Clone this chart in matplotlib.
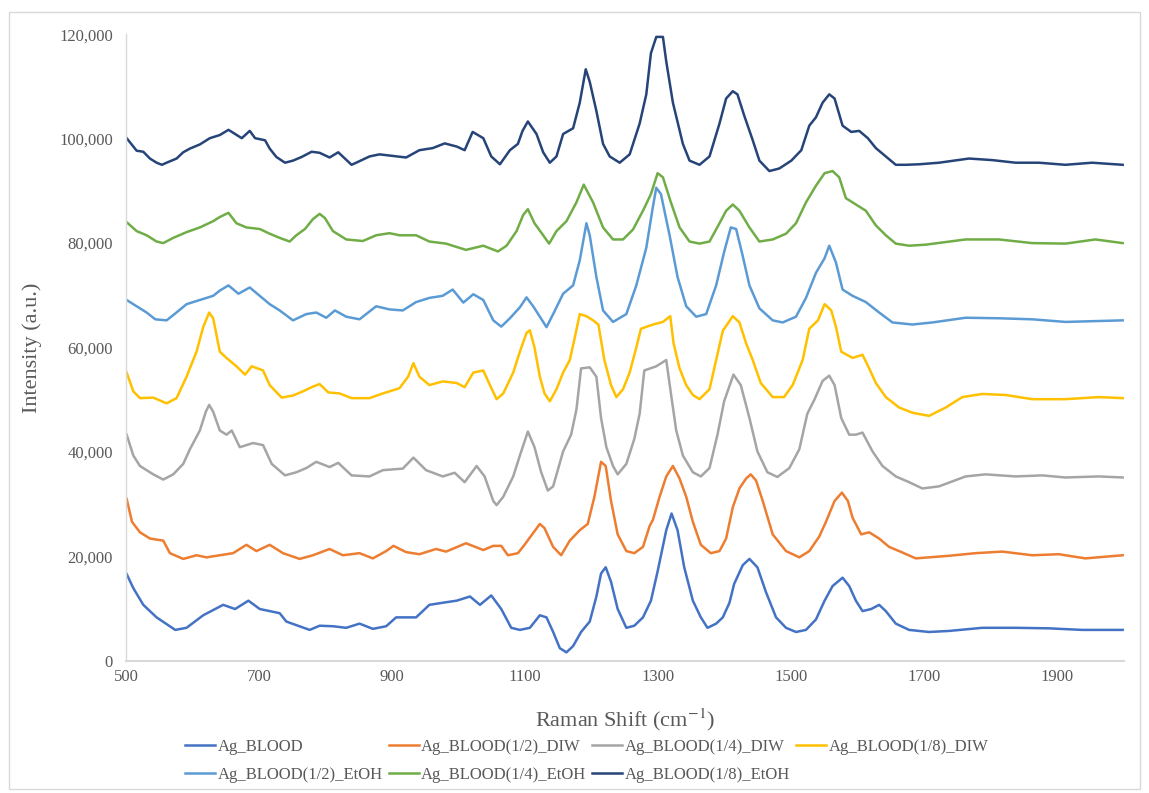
import matplotlib
matplotlib.use("Agg")
import matplotlib.pyplot as plt
from matplotlib.patches import Rectangle
from matplotlib.ticker import FuncFormatter

plt.rcParams["font.family"] = ["Liberation Serif", "DejaVu Serif"]
plt.rcParams["mathtext.fontset"] = "stix"

# Raman shift (cm^-1) and intensity (thousands of counts) for each sample
x_blood = [501, 511, 526, 546, 574, 591, 616, 646, 664, 684, 701, 731, 741, 776, 791, 811, 831, 851, 871, 891,
           906, 936, 956, 976, 997, 1017, 1032, 1049, 1064, 1079, 1092, 1107, 1122, 1132, 1142, 1152, 1162, 1172,
           1184, 1197, 1207, 1214, 1221, 1229, 1239, 1252, 1264, 1277, 1289, 1299, 1312, 1320, 1329, 1339, 1352,
           1364, 1374, 1387, 1397, 1407, 1414, 1427, 1437, 1449, 1462, 1477, 1492, 1507, 1522, 1537, 1550, 1562,
           1577, 1587, 1597, 1607, 1620, 1632, 1642, 1657, 1677, 1707, 1737, 1787, 1837, 1887, 1937, 1998]
y_blood = [16.6, 13.9, 10.7, 8.3, 5.9, 6.3, 8.7, 10.7, 9.9, 11.5, 9.9, 9.1, 7.5, 5.9, 6.7, 6.6, 6.3, 7.1, 6.1, 6.6,
           8.3, 8.3, 10.7, 11.1, 11.5, 12.3, 10.7, 12.5, 9.9, 6.3, 5.9, 6.3, 8.7, 8.3, 5.5, 2.4, 1.6, 2.8,
           5.5, 7.5, 12.3, 16.7, 17.9, 15.1, 9.9, 6.3, 6.7, 8.3, 11.5, 17.1, 25.0, 28.2, 25.0, 17.9, 11.5,
           8.3, 6.3, 7.1, 8.3, 11.1, 14.7, 18.3, 19.5, 17.9, 13.1, 8.3, 6.3, 5.5, 5.9, 7.9, 11.5, 14.3,
           15.9, 14.3, 11.5, 9.5, 9.9, 10.7, 9.5, 7.1, 5.9, 5.5, 5.7, 6.3, 6.3, 6.2, 5.9, 5.9]

x_half_diw = [501, 509, 521, 536, 556, 566, 586, 606, 621, 641, 661, 681, 696, 716, 736, 761, 781, 806, 826, 851,
              871, 891, 902, 921, 941, 966, 981, 1011, 1037, 1052, 1064, 1074, 1089, 1099, 1107, 1122, 1129, 1142,
              1154, 1167, 1182, 1194, 1204, 1214, 1221, 1229, 1239, 1252, 1264, 1277, 1287, 1292, 1302, 1312, 1322,
              1332, 1342, 1352, 1364, 1379, 1392, 1402, 1412, 1422, 1432, 1439, 1447, 1457, 1472, 1492, 1512, 1527,
              1542, 1552, 1565, 1576, 1585, 1592, 1605, 1617, 1632, 1647, 1662, 1687, 1737, 1777, 1817, 1862, 1902,
              1942, 1998]
y_half_diw = [31.0, 26.6, 24.6, 23.4, 23.0, 20.6, 19.5, 20.2, 19.8, 20.2, 20.6, 22.2, 21.0, 22.2, 20.6, 19.5, 20.2,
              21.4, 20.2, 20.6, 19.6, 21.0, 22.0, 20.8, 20.4, 21.4, 20.9, 22.5, 21.2, 22.0, 22.0, 20.2, 20.6, 22.2,
              23.6, 26.2, 25.4, 21.8, 20.2, 23.0, 25.0, 26.2, 31.4, 38.1, 37.3, 30.6, 24.2, 21.0, 20.6, 21.8, 25.8,
              27.0, 31.4, 35.3, 37.3, 34.9, 31.4, 26.6, 22.2, 20.6, 21.0, 23.4, 29.4, 33.0, 34.9, 35.7, 34.5, 30.6,
              24.2, 21.0, 19.8, 21.0, 23.8, 26.6, 30.6, 32.2, 30.6, 27.4, 24.2, 24.6, 23.4, 21.8, 21.0, 19.6, 20.1,
              20.6, 20.9, 20.2, 20.4, 19.6, 20.2]

x_quarter_diw = [501, 511, 521, 541, 556, 571, 586, 596, 611, 620, 625, 631, 641, 651, 659, 671, 691, 706, 719, 739,
                 756, 771, 786, 806, 819, 839, 866, 886, 916, 932, 951, 976, 994, 1009, 1027, 1039, 1052, 1057, 1067,
                 1082, 1092, 1104, 1114, 1124, 1134, 1142, 1157, 1169, 1177, 1184, 1197, 1207, 1214, 1222, 1232,
                 1239, 1252, 1264, 1272, 1279, 1297, 1312, 1319, 1327, 1337, 1352, 1364, 1377, 1389, 1399, 1413,
                 1424, 1437, 1449, 1464, 1479, 1497, 1512, 1524, 1535, 1547, 1557, 1565, 1575, 1587, 1597, 1607,
                 1622, 1637, 1657, 1677, 1697, 1722, 1762, 1792, 1837, 1877, 1912, 1962, 1998]
y_quarter_diw = [43.3, 39.3, 37.3, 35.7, 34.7, 35.7, 37.7, 40.5, 44.1, 47.7, 49.0, 47.7, 44.1, 43.3, 44.1, 40.9, 41.7,
                 41.3, 37.7, 35.5, 36.1, 36.9, 38.1, 37.1, 37.9, 35.5, 35.3, 36.5, 36.8, 38.9, 36.5, 35.3, 36.0, 34.2,
                 37.3, 35.3, 30.6, 29.8, 31.4, 35.3, 39.3, 43.9, 40.9, 36.1, 32.6, 33.4, 40.1, 43.3, 48.1, 56.0, 56.2,
                 54.4, 46.5, 40.9, 37.3, 35.7, 37.7, 42.5, 47.3, 55.6, 56.4, 57.6, 51.2, 44.1, 39.3, 36.1, 35.3, 36.9,
                 43.3, 49.7, 54.8, 52.8, 46.5, 40.1, 36.1, 35.2, 36.9, 40.5, 47.3, 50.1, 53.6, 54.6, 52.8, 46.5, 43.3,
                 43.3, 43.7, 40.1, 37.3, 35.3, 34.2, 33.0, 33.4, 35.3, 35.7, 35.3, 35.5, 35.1, 35.3, 35.1]

x_eighth_diw = [501, 511, 521, 541, 561, 576, 591, 606, 616, 625, 631, 641, 651, 666, 679, 689, 706, 716, 734, 751,
                766, 779, 791, 804, 821, 839, 866, 886, 911, 924, 932, 941, 956, 976, 997, 1009, 1022, 1037, 1047,
                1057, 1067, 1082, 1092, 1102, 1107, 1114, 1122, 1129, 1137, 1147, 1157, 1167, 1174, 1182, 1192, 1202,
                1210, 1219, 1229, 1237, 1247, 1257, 1267, 1274, 1292, 1307, 1318, 1323, 1332, 1342, 1352, 1362, 1377,
                1387, 1397, 1412, 1422, 1432, 1442, 1454, 1472, 1489, 1502, 1517, 1527, 1540, 1550, 1560, 1567, 1575,
                1592, 1607, 1617, 1627, 1642, 1662, 1682, 1707, 1732, 1757, 1787, 1822, 1862, 1912, 1962, 1998]
y_eighth_diw = [55.2, 51.6, 50.3, 50.4, 49.3, 50.3, 54.4, 59.2, 63.9, 66.7, 65.6, 59.2, 58.0, 56.4, 54.8, 56.4, 55.6,
                52.8, 50.4, 50.8, 51.6, 52.4, 53.0, 51.4, 51.2, 50.3, 50.3, 51.2, 52.2, 54.4, 57.0, 54.4, 52.8, 53.5,
                53.2, 52.4, 55.2, 55.6, 52.8, 50.1, 51.2, 55.2, 59.2, 62.8, 63.3, 60.0, 54.4, 51.2, 49.7, 52.0, 55.2,
                57.6, 61.6, 66.4, 66.0, 65.2, 64.4, 57.6, 52.8, 50.5, 52.0, 55.2, 60.0, 63.6, 64.4, 64.9, 66.0, 60.8,
                56.0, 52.8, 50.9, 50.1, 52.0, 57.6, 63.2, 66.0, 64.8, 60.8, 57.6, 53.2, 50.5, 50.5, 52.8, 57.6, 63.6,
                65.2, 68.3, 67.1, 64.0, 59.2, 58.0, 58.6, 56.0, 53.2, 50.5, 48.5, 47.5, 46.9, 48.5, 50.5, 51.1, 50.9,
                50.1, 50.1, 50.5, 50.3]

x_half_etoh = [501, 516, 531, 544, 561, 571, 591, 611, 631, 641, 654, 669, 686, 701, 716, 731, 751, 771, 786, 801,
               814, 831, 851, 876, 896, 916, 936, 956, 976, 991, 1007, 1022, 1037, 1052, 1064, 1077, 1092, 1102, 1112,
               1122, 1132, 1142, 1157, 1172, 1182, 1192, 1197, 1207, 1217, 1232, 1252, 1267, 1282, 1292, 1297, 1304,
               1317, 1329, 1342, 1357, 1372, 1387, 1399, 1409, 1417, 1427, 1437, 1452, 1472, 1487, 1507, 1522, 1537,
               1550, 1557, 1567, 1577, 1592, 1612, 1632, 1652, 1682, 1712, 1762, 1812, 1862, 1912, 1998]
y_half_etoh = [69.1, 67.9, 66.7, 65.4, 65.2, 66.2, 68.3, 69.1, 69.9, 70.9, 71.9, 70.3, 71.5, 69.9, 68.3, 67.1, 65.2,
               66.4, 66.7, 65.7, 67.1, 65.9, 65.4, 67.9, 67.3, 67.1, 68.7, 69.5, 69.9, 71.1, 68.6, 70.2, 69.1, 65.2,
               64.0, 65.6, 67.7, 69.6, 67.9, 65.9, 63.9, 66.4, 70.3, 71.9, 76.7, 83.8, 81.5, 73.5, 67.1, 64.9, 66.4,
               71.9, 79.1, 87.0, 90.6, 89.4, 81.5, 73.5, 67.9, 65.9, 66.4, 71.9, 78.3, 83.0, 82.7, 77.5, 71.9, 67.5,
               65.2, 64.8, 65.9, 69.5, 74.3, 77.1, 79.5, 76.3, 71.1, 69.9, 68.7, 66.7, 64.8, 64.4, 64.8, 65.7, 65.6,
               65.4, 64.9, 65.2]

x_quarter_etoh = [501, 516, 531, 546, 556, 571, 591, 611, 631, 641, 654, 666, 681, 701, 716, 731, 746, 756, 769, 781,
                  791, 799, 811, 831, 856, 876, 896, 911, 936, 956, 981, 1011, 1037, 1059, 1072, 1087, 1097, 1104,
                  1114, 1127, 1136, 1147, 1162, 1177, 1188, 1202, 1217, 1232, 1247, 1262, 1277, 1289, 1299, 1307,
                  1319, 1332, 1347, 1362, 1377, 1392, 1402, 1412, 1422, 1437, 1452, 1472, 1492, 1507, 1522, 1537,
                  1550, 1562, 1572, 1582, 1597, 1612, 1627, 1642, 1657, 1677, 1702, 1762, 1812, 1862, 1912, 1957,
                  1998]
y_quarter_etoh = [84.0, 82.3, 81.5, 80.3, 80.0, 81.0, 82.1, 83.0, 84.2, 85.0, 85.8, 83.8, 83.0, 82.7, 81.8, 81.0, 80.3,
                  81.5, 82.7, 84.6, 85.6, 84.8, 82.3, 80.7, 80.4, 81.5, 81.9, 81.5, 81.5, 80.3, 79.9, 78.7, 79.5, 78.4,
                  79.5, 82.3, 85.4, 86.5, 83.8, 81.5, 79.9, 82.3, 84.2, 87.8, 91.2, 87.8, 83.0, 80.7, 80.7, 82.6, 86.2,
                  89.4, 93.4, 92.6, 87.8, 83.0, 80.3, 79.9, 80.3, 83.8, 86.2, 87.4, 86.2, 83.0, 80.3, 80.7, 81.8, 83.8,
                  87.8, 91.0, 93.4, 93.8, 92.6, 88.6, 87.4, 86.2, 83.4, 81.5, 79.9, 79.5, 79.7, 80.7, 80.7, 80.0, 79.9,
                  80.7, 80.0]

x_eighth_etoh = [501, 506, 516, 526, 536, 546, 554, 561, 576, 586, 596, 611, 626, 641, 654, 664, 674, 686, 694, 709,
                 716, 726, 739, 751, 764, 779, 791, 806, 819, 839, 846, 866, 881, 901, 921, 941, 961, 979, 997, 1009,
                 1021, 1037, 1049, 1062, 1077, 1089, 1096, 1104, 1117, 1127, 1137, 1147, 1157, 1172, 1182, 1191, 1197,
                 1207, 1217, 1227, 1242, 1257, 1272, 1282, 1289, 1297, 1307, 1312, 1322, 1337, 1347, 1362, 1377, 1392,
                 1402, 1412, 1419, 1429, 1442, 1452, 1467, 1482, 1500, 1515, 1527, 1537, 1547, 1557, 1565, 1577, 1590,
                 1602, 1615, 1627, 1642, 1657, 1672, 1692, 1722, 1767, 1802, 1837, 1872, 1912, 1952, 1998]
y_eighth_etoh = [100.1, 99.3, 97.7, 97.5, 96.2, 95.4, 95.0, 95.4, 96.2, 97.4, 98.1, 98.9, 100.1, 100.7, 101.7, 100.9,
                 100.1, 101.5, 100.1, 99.7, 98.1, 96.5, 95.4, 95.8, 96.5, 97.5, 97.3, 96.4, 97.4, 95.0, 95.4, 96.6,
                 97.0, 96.7, 96.4, 97.8, 98.2, 99.1, 98.5, 97.8, 101.3, 100.1, 96.6, 95.1, 97.8, 99.0, 101.5, 103.3,
                 100.9, 97.4, 95.4, 96.6, 100.9, 102.0, 106.9, 113.3, 110.9, 105.3, 99.0, 96.6, 95.4, 97.0, 102.9,
                 108.5, 116.4, 119.5, 119.5, 114.8, 106.9, 99.0, 95.8, 95.0, 96.6, 102.9, 107.7, 109.1, 108.5, 104.5,
                 99.7, 95.8, 93.8, 94.3, 95.8, 97.8, 102.5, 104.1, 106.9, 108.5, 107.7, 102.5, 101.3, 101.5, 100.1,
                 98.2, 96.6, 95.0, 95.0, 95.1, 95.4, 96.2, 95.9, 95.4, 95.4, 95.0, 95.4, 95.0]

series = [
    ("Ag_BLOOD", x_blood, y_blood, "#4472C4"),
    ("Ag_BLOOD(1/2)_DIW", x_half_diw, y_half_diw, "#ED7D31"),
    ("Ag_BLOOD(1/4)_DIW", x_quarter_diw, y_quarter_diw, "#A5A5A5"),
    ("Ag_BLOOD(1/8)_DIW", x_eighth_diw, y_eighth_diw, "#FFC000"),
    ("Ag_BLOOD(1/2)_EtOH", x_half_etoh, y_half_etoh, "#5B9BD5"),
    ("Ag_BLOOD(1/4)_EtOH", x_quarter_etoh, y_quarter_etoh, "#70AD47"),
    ("Ag_BLOOD(1/8)_EtOH", x_eighth_etoh, y_eighth_etoh, "#264478"),
]

W, H = 1149, 793
fig = plt.figure(figsize=(W / 100, H / 100), dpi=100)
fig.patch.set_facecolor("white")

# thin chart-area border
fig.patches.append(Rectangle((9 / W, 1 - 789 / H), (1140 - 9) / W, (789 - 12) / H,
                             transform=fig.transFigure, fill=False, edgecolor="#D9D9D9", linewidth=1))

left, right, top, bottom = 126, 1124, 34.3, 660.7
ax = fig.add_axes([left / W, 1 - bottom / H, (right - left) / W, (bottom - top) / H])

handles = []
for name, xs, ys, color in series:
    (h,) = ax.plot(xs, [v * 1000 for v in ys], color=color, linewidth=1.8, label=name,
                   solid_joinstyle="round")
    handles.append(h)

ax.set_xlim(500, 2000)
ax.set_ylim(0, 120000)
ax.set_xticks(range(500, 2000, 200))
ax.set_yticks(range(0, 120001, 20000))
ax.yaxis.set_major_formatter(FuncFormatter(lambda v, _: f"{v:,.0f}"))

for side in ("top", "right"):
    ax.spines[side].set_visible(False)
ax.spines["left"].set_color("#D9D9D9")
ax.spines["left"].set_linewidth(1.0)
ax.spines["bottom"].set_color("#D9D9D9")
ax.spines["bottom"].set_linewidth(1.5)

ax.tick_params(axis="both", length=0, labelsize=12, labelcolor="#595959")
ax.tick_params(axis="y", pad=9.5)
ax.tick_params(axis="x", pad=6)

ax.set_ylabel("Intensity (a.u.)", fontsize=16, color="#595959")
ax.yaxis.set_label_coords((42 - left) / (right - left), 0.5)
ax.set_xlabel("Raman Shift (cm$^{-1}$)", fontsize=16, color="#595959")
ax.xaxis.set_label_coords(0.5, (bottom - 706) / (bottom - top))

order = [0, 4, 1, 5, 2, 6, 3]
fig.legend([handles[i] for i in order], [series[i][0] for i in order],
           ncol=4, loc="center left", bbox_to_anchor=(177 / W, 1 - 761 / H),
           frameon=False, fontsize=12, borderpad=0, handlelength=1.8, handletextpad=0.15,
           columnspacing=0.35, labelspacing=0.7, labelcolor="#595959")

fig.savefig("out.png", dpi=100, facecolor="white")
